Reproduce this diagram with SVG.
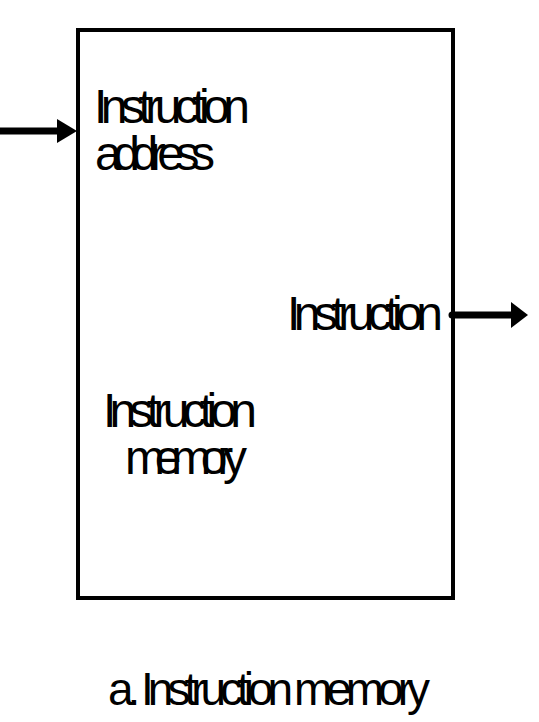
<svg xmlns="http://www.w3.org/2000/svg" width="539" height="722" viewBox="0 0 539 722">
<style>
text{font-family:"Liberation Sans",Arial,sans-serif;fill:#000;}
.lbl{font-size:48px;}
.cap{font-size:46px;}
.box{fill:#fff;stroke:#000;stroke-width:4;}
.wire{stroke:#000;stroke-width:7;fill:none;}
.head{fill:#000;}
</style>
<rect width="539" height="722" fill="#fff"/>
<g id="instruction-memory">
<rect class="box" x="78" y="30" width="375" height="568"/>
<text class="lbl" x="94" y="123" textLength="156" lengthAdjust="spacing">Instruction</text>
<text class="lbl" x="95" y="170" textLength="120" lengthAdjust="spacing">address</text>
<text class="lbl" x="287" y="330" textLength="156" lengthAdjust="spacing">Instruction</text>
<text class="lbl" x="103" y="427" textLength="154" lengthAdjust="spacing">Instruction</text>
<text class="lbl" x="125" y="474" textLength="122" lengthAdjust="spacing">memory</text>
</g>
<g id="connectors">
<line class="wire" x1="0" y1="131" x2="60" y2="131"/>
<polygon class="head" points="57,119 77,131 57,143"/>
<line class="wire" x1="452" y1="315" x2="514" y2="315" stroke-linecap="round"/>
<polygon class="head" points="511,302 528,315 511,328"/>
</g>
<g id="caption">
<text class="cap" x="108" y="705" textLength="322" lengthAdjust="spacing">a. Instruction memory</text>
</g>
</svg>
